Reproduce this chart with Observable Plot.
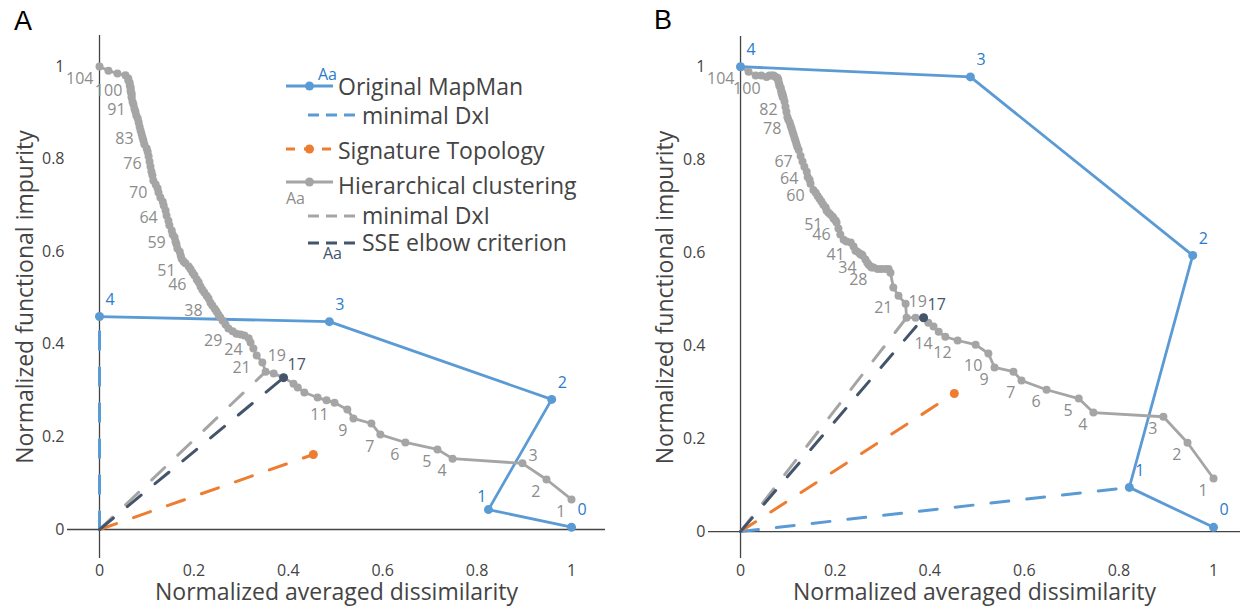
<!DOCTYPE html>
<html><head><meta charset="utf-8">
<script src="https://cdn.jsdelivr.net/npm/d3@7"></script>
<script src="https://cdn.jsdelivr.net/npm/@observablehq/plot@0.6"></script>
<style>
body{margin:0;background:#fff;}
#fig{position:relative;width:1242px;height:615px;overflow:hidden;background:#fff;}
.panel{position:absolute;top:0;}
#overlay{position:absolute;left:0;top:0;pointer-events:none;}
</style></head><body><div id="fig"></div>
<script>
// ---------- data ----------
const ticks = [0, 0.2, 0.4, 0.6, 0.8, 1];
const xTitle = "Normalized averaged dissimilarity";
const yTitle = "Normalized functional impurity";
const panelLetters = ["A", "B"];
const legendLabels = ["Original MapMan", "minimal DxI", "Signature Topology", "Hierarchical clustering", "minimal DxI", "SSE elbow criterion"];

// Panel A: Original MapMan (number of levels 4..0)
const mapmanA_k = [4, 3, 2, 1, 0];
const mapmanA_x = [0, 0.487, 0.958, 0.824, 1.0];
const mapmanA_y = [0.46, 0.449, 0.281, 0.043, 0.005];
// Panel A: Signature topology
const sigA_x = [0.453];
const sigA_y = [0.162];
// Panel A: hierarchical clustering, k = 104 down to 1
const hierA_x = [
 0, 0.019, 0.038, 0.055, 0.061, 0.061, 0.064, 0.064, 0.066, 0.066,
 0.066, 0.068, 0.068, 0.068, 0.070, 0.072, 0.074, 0.076, 0.078, 0.081,
 0.083, 0.085, 0.087, 0.089, 0.091, 0.093, 0.095, 0.100, 0.102, 0.104,
 0.106, 0.108, 0.110, 0.112, 0.114, 0.119, 0.123, 0.125, 0.129, 0.134,
 0.136, 0.140, 0.142, 0.146, 0.148, 0.153, 0.155, 0.159, 0.161, 0.163,
 0.165, 0.170, 0.172, 0.174, 0.178, 0.182, 0.189, 0.193, 0.197, 0.201,
 0.206, 0.210, 0.214, 0.218, 0.222, 0.227, 0.231, 0.235, 0.239, 0.244,
 0.248, 0.252, 0.256, 0.261, 0.267, 0.273, 0.282, 0.290, 0.299, 0.307,
 0.316, 0.320, 0.326, 0.333, 0.345, 0.352, 0.369, 0.390, 0.411, 0.420,
 0.434, 0.462, 0.481, 0.498, 0.525, 0.538, 0.576, 0.595, 0.648, 0.716,
 0.748, 0.896, 0.947, 1.0];
const hierA_y = [
 1.0, 0.991, 0.985, 0.981, 0.974, 0.970, 0.965, 0.959, 0.955, 0.950,
 0.946, 0.942, 0.937, 0.933, 0.924, 0.918, 0.909, 0.903, 0.894, 0.888,
 0.879, 0.870, 0.862, 0.855, 0.847, 0.840, 0.832, 0.823, 0.816, 0.806,
 0.795, 0.784, 0.773, 0.765, 0.754, 0.745, 0.737, 0.728, 0.717, 0.708,
 0.700, 0.689, 0.678, 0.667, 0.657, 0.646, 0.637, 0.631, 0.622, 0.616,
 0.607, 0.600, 0.592, 0.585, 0.579, 0.575, 0.568, 0.562, 0.555, 0.549,
 0.540, 0.534, 0.525, 0.518, 0.512, 0.505, 0.499, 0.490, 0.484, 0.477,
 0.471, 0.464, 0.458, 0.451, 0.443, 0.434, 0.428, 0.423, 0.421, 0.419,
 0.413, 0.404, 0.391, 0.376, 0.361, 0.341, 0.337, 0.328, 0.315, 0.307,
 0.296, 0.285, 0.279, 0.274, 0.259, 0.240, 0.229, 0.205, 0.188, 0.173,
 0.153, 0.143, 0.108, 0.065];
const hierA_minDxI = 19;
const hierA_sse = 17;
const hierA_labelsBL = [104, 100, 91, 83, 76, 70, 64, 59, 51, 46, 38, 29, 24, 21, 11, 9, 7, 6, 5, 4, 2, 1];
const hierA_labelsTR = [19];
const hierA_labelsMR = [3];
const mapmanA_labelsTL = [1];
const mapmanA_minDxI = 4;

// Panel B
const mapmanB_k = [4, 3, 2, 1, 0];
const mapmanB_x = [0, 0.486, 0.956, 0.822, 1.0];
const mapmanB_y = [1.0, 0.978, 0.594, 0.095, 0.009];
const sigB_x = [0.452];
const sigB_y = [0.297];
const hierB_x = [
 0, 0.017, 0.032, 0.044, 0.055, 0.061, 0.066, 0.070, 0.074, 0.078,
 0.080, 0.080, 0.082, 0.082, 0.085, 0.085, 0.087, 0.087, 0.087, 0.089,
 0.089, 0.089, 0.091, 0.093, 0.095, 0.097, 0.099, 0.101, 0.104, 0.106,
 0.108, 0.110, 0.112, 0.114, 0.116, 0.118, 0.120, 0.123, 0.127, 0.131,
 0.135, 0.140, 0.142, 0.146, 0.148, 0.154, 0.159, 0.163, 0.167, 0.171,
 0.175, 0.180, 0.182, 0.186, 0.190, 0.195, 0.197, 0.201, 0.203, 0.207,
 0.211, 0.218, 0.224, 0.233, 0.239, 0.243, 0.247, 0.252, 0.254, 0.256,
 0.258, 0.264, 0.268, 0.271, 0.275, 0.277, 0.281, 0.290, 0.298, 0.307,
 0.313, 0.317, 0.323, 0.334, 0.349, 0.351, 0.370, 0.387, 0.397, 0.408,
 0.419, 0.433, 0.459, 0.497, 0.524, 0.537, 0.577, 0.594, 0.647, 0.715,
 0.746, 0.894, 0.945, 1.0];
const hierB_y = [
 1.0, 0.989, 0.981, 0.981, 0.978, 0.981, 0.981, 0.981, 0.978, 0.976,
 0.972, 0.968, 0.963, 0.959, 0.955, 0.951, 0.946, 0.944, 0.942, 0.940,
 0.938, 0.935, 0.933, 0.925, 0.914, 0.903, 0.892, 0.886, 0.880, 0.873,
 0.867, 0.860, 0.854, 0.847, 0.841, 0.834, 0.828, 0.821, 0.808, 0.796,
 0.785, 0.774, 0.763, 0.757, 0.748, 0.735, 0.729, 0.722, 0.716, 0.710,
 0.703, 0.697, 0.690, 0.686, 0.682, 0.677, 0.673, 0.669, 0.665, 0.652,
 0.639, 0.628, 0.624, 0.622, 0.613, 0.604, 0.602, 0.598, 0.596, 0.596,
 0.594, 0.585, 0.578, 0.574, 0.570, 0.568, 0.568, 0.565, 0.565, 0.565,
 0.565, 0.557, 0.525, 0.507, 0.490, 0.460, 0.460, 0.460, 0.449, 0.441,
 0.430, 0.419, 0.411, 0.402, 0.383, 0.353, 0.344, 0.325, 0.305, 0.286,
 0.256, 0.247, 0.191, 0.114];
const hierB_minDxI = 19;
const hierB_sse = 17;
const hierB_labelsBL = [104, 100, 82, 78, 67, 64, 60, 51, 46, 41, 34, 28, 21, 14, 12, 10, 9, 7, 6, 5, 4, 3, 2, 1];
const hierB_labelsTR = [19];
const hierB_labelsMR = [];
const mapmanB_labelsTL = [];
const mapmanB_minDxI = 1;

// ---------- styles ----------
const C = {
  blue: "#5b9bd5", blueText: "#2b7bcb", orange: "#ed7d31",
  gray: "#a5a5a5", grayText: "#8c8c8c", dark: "#44546a", axis: "#444"
};
const FONT = "'Open Sans', sans-serif";
const DASH = "18,18";

function panel(o) {
  const n = o.hierX.length;
  const hier = o.hierX.map((x, i) => ({k: n - i, x, y: o.hierY[i]}));
  const map = o.mapK.map((k, i) => ({k, x: o.mapX[i], y: o.mapY[i]}));
  const sig = o.sigX.map((x, i) => ({x, y: o.sigY[i]}));
  const origin = {x: 0, y: 0};
  const hk = k => hier.find(d => d.k === k);
  const mk = k => map.find(d => d.k === k);
  const dxiMap = [origin, mk(o.mapMin)];
  const dxiHier = [origin, hk(o.hierMin)];
  const sse = [origin, hk(o.sseK)];
  const sigLine = [origin, sig[0]];
  const lbl = {fontSize: 16, fontFamily: FONT};
  return Plot.plot({
    width: o.width, height: 615,
    marginLeft: o.mLeft, marginRight: o.mRight, marginTop: o.mTop, marginBottom: 615 - o.frameBottom,
    x: {domain: o.xd}, y: {domain: o.yd},
    style: {fontFamily: FONT, fontSize: "16px", background: "transparent", overflow: "visible"},
    marks: [
      Plot.ruleX([0], {stroke: C.axis, strokeWidth: 1.3}),
      Plot.ruleY([0], {stroke: C.axis, strokeWidth: 1.3}),
      Plot.axisX({ticks, tickSize: 0, tickPadding: 6, label: null, tickFormat: d => String(d), fill: C.axis, fontSize: 16}),
      Plot.axisY({ticks, tickSize: 0, tickPadding: 3, label: null, tickFormat: d => String(d), fill: C.axis, fontSize: 16}),
      Plot.text([xTitle], {text: d => d, frameAnchor: "bottom", textAnchor: "middle", dy: 41, fontSize: 23, fill: C.axis}),
      Plot.text([yTitle], {text: d => d, frameAnchor: "left", textAnchor: "middle", dx: o.yTitleDx, rotate: -90, fontSize: 23, fill: C.axis}),
      // Original MapMan
      Plot.line(map, {x: "x", y: "y", stroke: C.blue, strokeWidth: 2.8}),
      // hierarchical clustering
      Plot.line(hier, {x: "x", y: "y", stroke: C.gray, strokeWidth: 2.8}),
      Plot.dot(hier, {x: "x", y: "y", r: 4, fill: C.gray}),
      // dashed min DxI / elbow / signature
      Plot.line(dxiMap, {x: "x", y: "y", stroke: C.blue, strokeWidth: 3, strokeDasharray: DASH}),
      Plot.line(sigLine, {x: "x", y: "y", stroke: C.orange, strokeWidth: 3, strokeDasharray: DASH}),
      Plot.line(dxiHier, {x: "x", y: "y", stroke: C.gray, strokeWidth: 3, strokeDasharray: DASH}),
      Plot.line(sse, {x: "x", y: "y", stroke: C.dark, strokeWidth: 3, strokeDasharray: DASH}),
      Plot.dot(sig, {x: "x", y: "y", r: 4.5, fill: C.orange}),
      Plot.dot([hk(o.sseK)], {x: "x", y: "y", r: 4.5, fill: C.dark}),
      Plot.dot(map, {x: "x", y: "y", r: 4.5, fill: C.blue}),
      // labels
      Plot.text(hier.filter(d => o.bl.includes(d.k)), {x: "x", y: "y", text: d => String(d.k), textAnchor: "end", dx: -6, dy: 12, fill: C.grayText, ...lbl}),
      Plot.text(hier.filter(d => o.tr.includes(d.k)), {x: "x", y: "y", text: d => String(d.k), textAnchor: "start", dx: 2, dy: -16, fill: C.grayText, ...lbl}),
      Plot.text(hier.filter(d => o.mr.includes(d.k)), {x: "x", y: "y", text: d => String(d.k), textAnchor: "start", dx: 6, dy: -7, fill: C.grayText, ...lbl}),
      Plot.text([hk(o.sseK)], {x: "x", y: "y", text: d => String(d.k), textAnchor: "start", dx: 4, dy: -13, fill: C.dark, ...lbl}),
      Plot.text(map.filter(d => !o.mtl.includes(d.k)), {x: "x", y: "y", text: d => String(d.k), textAnchor: "start", dx: 6, dy: -17, fill: C.blueText, ...lbl}),
      Plot.text(map.filter(d => o.mtl.includes(d.k)), {x: "x", y: "y", text: d => String(d.k), textAnchor: "end", dx: -2, dy: -13, fill: C.blueText, ...lbl})
    ]
  });
}

const fig = document.getElementById("fig");
const pA = panel({
  width: 620, mLeft: 67, mRight: 15, mTop: 35, frameBottom: 558, xd: [-0.0678, 1.072], yd: [-0.0626, 1.067], yTitleDx: -42,
  mapK: mapmanA_k, mapX: mapmanA_x, mapY: mapmanA_y, sigX: sigA_x, sigY: sigA_y,
  hierX: hierA_x, hierY: hierA_y, hierMin: hierA_minDxI, sseK: hierA_sse, mapMin: mapmanA_minDxI,
  bl: hierA_labelsBL, tr: hierA_labelsTR, mr: hierA_labelsMR, mtl: mapmanA_labelsTL
});
pA.classList.add("panel"); pA.style.left = "0px";
fig.appendChild(pA);
const pB = panel({
  width: 602, mLeft: 68, mRight: 2, mTop: 36, frameBottom: 558, xd: [-0.0677, 1.057], yd: [-0.058, 1.065], yTitleDx: -43,
  mapK: mapmanB_k, mapX: mapmanB_x, mapY: mapmanB_y, sigX: sigB_x, sigY: sigB_y,
  hierX: hierB_x, hierY: hierB_y, hierMin: hierB_minDxI, sseK: hierB_sse, mapMin: mapmanB_minDxI,
  bl: hierB_labelsBL, tr: hierB_labelsTR, mr: hierB_labelsMR, mtl: mapmanB_labelsTL
});
pB.classList.add("panel"); pB.style.left = "640px";
fig.appendChild(pB);

// ---------- overlay: panel letters + legend ----------
const svg = d3.select(fig).append("svg").attr("id", "overlay").attr("width", 1242).attr("height", 615);
svg.append("text").attr("x", 14).attr("y", 30).attr("font-family", "'Liberation Sans', Arial, sans-serif").attr("font-size", 27).attr("fill", "#000").text(panelLetters[0]);
svg.append("text").attr("x", 654).attr("y", 29).attr("font-family", "'Liberation Sans', Arial, sans-serif").attr("font-size", 27).attr("fill", "#000").text(panelLetters[1]);

const lg = svg.append("g").attr("font-family", FONT);
const items = [
  {sym: "lineDot", color: C.blue, x1: 286, x2: 333, ly: 86, ty: 87, tx: 338},
  {sym: "dash", color: C.blue, x1: 308, x2: 356, ly: 115, ty: 115.5, tx: 362},
  {sym: "dashDot", color: C.orange, x1: 286, x2: 333, ly: 149, ty: 150.5, tx: 338},
  {sym: "lineDot", color: C.gray, x1: 286, x2: 333, ly: 182, ty: 186, tx: 338},
  {sym: "dash", color: C.gray, x1: 308, x2: 356, ly: 216, ty: 216, tx: 362},
  {sym: "dash", color: C.dark, x1: 308, x2: 356, ly: 243, ty: 243, tx: 362}
];
items.forEach((it, i) => {
  lg.append("line").attr("x1", it.x1).attr("x2", it.x2).attr("y1", it.ly).attr("y2", it.ly)
    .attr("stroke", it.color).attr("stroke-width", 3)
    .attr("stroke-dasharray", it.sym === "dash" ? "11,7" : it.sym === "dashDot" ? "9,9" : null);
  if (it.sym !== "dash") lg.append("circle").attr("cx", (it.x1 + it.x2) / 2).attr("cy", it.ly).attr("r", 4.5).attr("fill", it.color);
  lg.append("text").attr("x", it.tx).attr("y", it.ty).attr("dy", "0.36em").attr("font-size", 23).attr("fill", C.axis).text(legendLabels[i]);
});
lg.append("text").attr("x", 318).attr("y", 74).attr("dy", "0.36em").attr("font-size", 16).attr("fill", C.blueText).text("Aa");
lg.append("text").attr("x", 286).attr("y", 198).attr("dy", "0.36em").attr("font-size", 16).attr("fill", C.grayText).text("Aa");
lg.append("text").attr("x", 323).attr("y", 253).attr("dy", "0.36em").attr("font-size", 16).attr("fill", C.dark).text("Aa");
</script></body></html>
